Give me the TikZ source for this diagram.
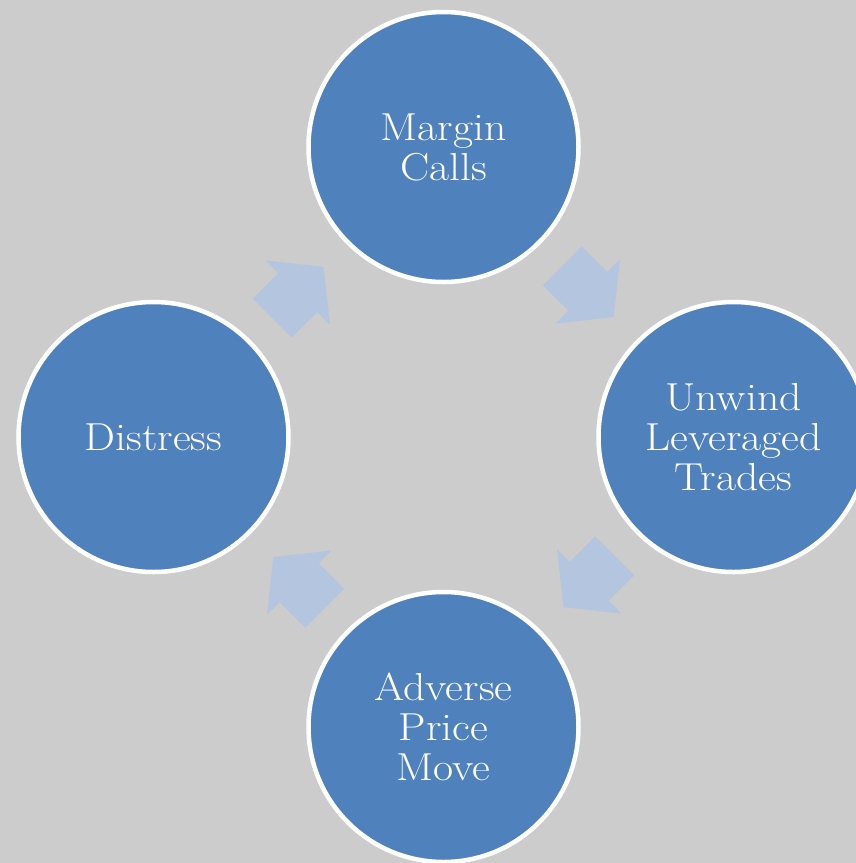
\documentclass[tikz,border=0pt]{standalone}
\usepackage{fontspec}
\setmainfont{Latin Modern Roman}[FakeStretch=1.12]
\usetikzlibrary{calc}
\definecolor{bgcol}{RGB}{204,204,204}
\definecolor{circfill}{RGB}{79,129,189}
\definecolor{arrfill}{RGB}{180,197,224}
\tikzset{
  stage/.style={circle, fill=circfill, draw=white, line width=4.5pt,
    minimum size=270pt, inner sep=0pt, text=white, align=center,
    font=\fontsize{39}{40}\selectfont},
  blockarrow/.style={fill=arrfill}
}
\begin{document}
\begin{tikzpicture}[x=1pt,y=-1pt]
\useasboundingbox (0,0) rectangle (856,863);
\clip (0,0) rectangle (856,863);
\fill[bgcol] (0,0) rectangle (856,863);
\node[stage] (mc) at (443.5,147) {Margin\\Calls};
\node[stage] (ul) at (733.5,437) {Unwind\\Leveraged\\Trades};
\node[stage] (ap) at (443.5,727) {Adverse\\Price\\Move};
\node[stage] (di) at (153.5,437) {Distress};
\foreach \a/\b/\r in {mc/ul/-45, ul/ap/-135, ap/di/135, di/mc/45}{
  \fill[blockarrow, shift={($(\a)!0.5!(\b)$)}, rotate=\r]
    (-37,27.5) -- (-1,27.5) -- (-1,45.5) -- (35.5,0) -- (-1,-45.5)
    -- (-1,-27.5) -- (-37,-27.5) -- cycle;
}
\end{tikzpicture}
\end{document}
